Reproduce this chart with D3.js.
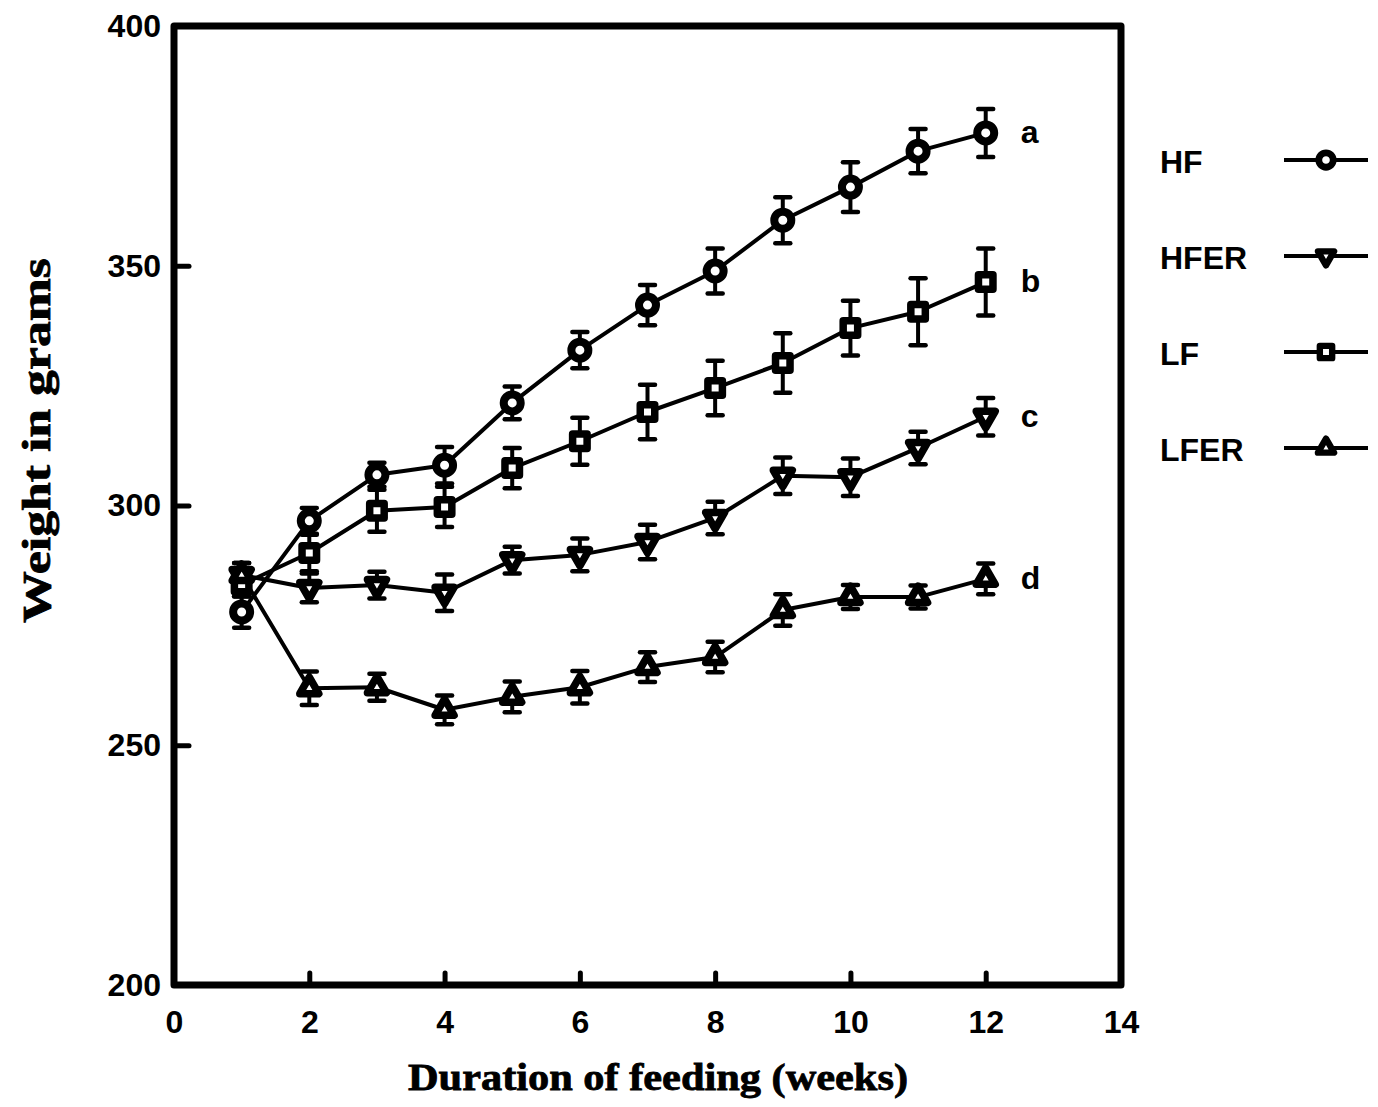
<!DOCTYPE html>
<html>
<head>
<meta charset="utf-8">
<script src="https://cdn.jsdelivr.net/npm/d3@7"></script>
<style>
  html, body { margin: 0; padding: 0; background: #fff; }
  svg { display: block; }
</style>
</head>
<body>
<svg id="chart" width="1378" height="1107"></svg>
<script>
// Body weight over 12 weeks of feeding, four diet groups (mean ± SE)
const weeks = [1, 2, 3, 4, 5, 6, 7, 8, 9, 10, 11, 12];

const hfMean   = [277.8, 296.8, 306.4, 308.4, 321.4, 332.4, 341.8, 348.9, 359.5, 366.4, 373.9, 377.7];
const hfErr    = [3.3, 2.7, 2.5, 3.8, 3.4, 3.8, 4.2, 4.7, 4.8, 5.2, 4.6, 5.0];

const hferMean = [285.5, 282.8, 283.4, 281.8, 288.6, 289.7, 292.4, 297.4, 306.2, 305.9, 312.0, 318.5];
const hferErr  = [2.5, 3.0, 2.8, 3.8, 2.8, 3.4, 3.6, 3.4, 3.8, 3.9, 3.4, 3.9];

const lfMean   = [283.5, 290.1, 298.9, 299.7, 307.8, 313.4, 319.5, 324.5, 329.7, 337.0, 340.4, 346.6];
const lfErr    = [2.5, 3.8, 4.4, 4.2, 4.2, 4.9, 5.7, 5.7, 6.2, 5.7, 7.0, 7.0];

const lferMean = [285.5, 261.9, 262.1, 257.4, 260.1, 262.1, 266.3, 268.4, 278.2, 280.9, 280.9, 284.7];
const lferErr  = [2.5, 3.5, 2.8, 3.0, 3.2, 3.4, 3.1, 3.2, 3.3, 2.5, 2.4, 3.2];

const groupNames   = ["HF", "HFER", "LF", "LFER"];
const groupLetters = ["a", "c", "b", "d"];
const groupShapes  = ["circle", "triangleDown", "square", "triangleUp"];

const xTicks = [0, 2, 4, 6, 8, 10, 12, 14];
const yTicks = [200, 250, 300, 350, 400];

const xTitle = "Duration of feeding (weeks)";
const yTitle = "Weight in grams";

const groups = groupNames.map((name, i) => ({
  name,
  letter: groupLetters[i],
  shape: groupShapes[i],
  mean: [hfMean, hferMean, lfMean, lferMean][i],
  err:  [hfErr, hferErr, lfErr, lferErr][i]
}));

const svg = d3.select("#chart");

const x = d3.scaleLinear().domain([0, 14]).range([174, 1121]);
const y = d3.scaleLinear().domain([200, 400]).range([985, 26]);

const sansBold = "'Liberation Sans', Arial, sans-serif";
const serifBold = "'Liberation Serif', 'Times New Roman', serif";

// marker drawing
function drawMarker(g, shape, scale) {
  const k = scale || 1;
  if (shape === "circle") {
    g.append("circle").attr("r", 8.5 * k)
      .attr("fill", "#fff").attr("stroke", "#000").attr("stroke-width", 8 * k);
  } else if (shape === "square") {
    const s = 14.5 * k;
    g.append("rect").attr("x", -s / 2).attr("y", -s / 2).attr("width", s).attr("height", s)
      .attr("fill", "#fff").attr("stroke", "#000").attr("stroke-width", 7.5 * k)
      .attr("stroke-linejoin", "round");
  } else {
    const s = 19 * k;
    const h = s * Math.sqrt(3) / 2;
    const dir = shape === "triangleUp" ? 1 : -1;
    const pts = [[0, -dir * 2 * h / 3], [s / 2, dir * h / 3], [-s / 2, dir * h / 3]];
    g.append("path").attr("d", d3.line()(pts) + "Z")
      .attr("fill", "#fff").attr("stroke", "#000").attr("stroke-width", 7.5 * k)
      .attr("stroke-linejoin", "round");
  }
}

// axis frame
const frame = svg.append("g");
frame.append("rect")
  .attr("x", x(0)).attr("y", y(400))
  .attr("width", x(14) - x(0)).attr("height", y(200) - y(400))
  .attr("fill", "none").attr("stroke", "#000").attr("stroke-width", 7)
  .attr("stroke-linejoin", "round");

// x axis: inward ticks, labels below
const xAxis = d3.axisBottom(x).tickValues(xTicks).tickSize(-12).tickPadding(42)
  .tickFormat(d3.format("d"));
const gx = svg.append("g").attr("transform", `translate(0,${y(200)})`).call(xAxis);
gx.select(".domain").remove();
gx.selectAll(".tick line").attr("stroke", "#000").attr("stroke-width", 5)
  .attr("stroke-linecap", "round");
gx.selectAll(".tick").filter(d => d === 0 || d === 14).select("line").remove();
gx.selectAll(".tick text").attr("font-family", sansBold).attr("font-weight", "bold")
  .attr("font-size", 32).attr("fill", "#000").attr("dy", "0.2em");

// y axis: inward ticks, labels left
const yAxis = d3.axisLeft(y).tickValues(yTicks).tickSize(-15).tickPadding(13)
  .tickFormat(d3.format("d"));
const gy = svg.append("g").attr("transform", `translate(${x(0)},0)`).call(yAxis);
gy.select(".domain").remove();
gy.selectAll(".tick line").attr("stroke", "#000").attr("stroke-width", 5)
  .attr("stroke-linecap", "round");
gy.selectAll(".tick").filter(d => d === 200 || d === 400).select("line").remove();
gy.selectAll(".tick text").attr("font-family", sansBold).attr("font-weight", "bold")
  .attr("font-size", 32).attr("fill", "#000");

// axis titles
svg.append("text")
  .attr("x", 408).attr("y", 1090)
  .attr("font-family", serifBold).attr("font-weight", "bold").attr("font-size", 38)
  .attr("stroke", "#000").attr("stroke-width", 0.8)
  .attr("textLength", 500).attr("lengthAdjust", "spacingAndGlyphs")
  .text(xTitle);

svg.append("text")
  .attr("transform", "translate(50,623) rotate(-90)")
  .attr("font-family", serifBold).attr("font-weight", "bold").attr("font-size", 41)
  .attr("stroke", "#000").attr("stroke-width", 0.8)
  .attr("textLength", 365).attr("lengthAdjust", "spacingAndGlyphs")
  .text(yTitle);

// error bars
const capHalf = 7.5;
const errLayer = svg.append("g");
groups.forEach(gr => {
  weeks.forEach((w, i) => {
    const cx = x(w), top = y(gr.mean[i] + gr.err[i]), bot = y(gr.mean[i] - gr.err[i]);
    errLayer.append("line").attr("x1", cx).attr("x2", cx).attr("y1", top).attr("y2", bot)
      .attr("stroke", "#000").attr("stroke-width", 4);
    [top, bot].forEach(yy => {
      errLayer.append("line").attr("x1", cx - capHalf).attr("x2", cx + capHalf)
        .attr("y1", yy).attr("y2", yy)
        .attr("stroke", "#000").attr("stroke-width", 4.5).attr("stroke-linecap", "round");
    });
  });
});

// connecting lines
const lineGen = d3.line().x((d, i) => x(weeks[i])).y(d => y(d));
const lineLayer = svg.append("g");
groups.forEach(gr => {
  lineLayer.append("path").attr("d", lineGen(gr.mean))
    .attr("fill", "none").attr("stroke", "#000").attr("stroke-width", 4)
    .attr("stroke-linejoin", "round");
});

// markers
const markerLayer = svg.append("g");
groups.forEach(gr => {
  weeks.forEach((w, i) => {
    const g = markerLayer.append("g").attr("transform", `translate(${x(w)},${y(gr.mean[i])})`);
    drawMarker(g, gr.shape, 1);
  });
});

// significance letters next to week 12
groups.forEach(gr => {
  svg.append("text")
    .attr("x", x(weeks[weeks.length - 1]) + 35)
    .attr("y", y(gr.mean[gr.mean.length - 1]) + 10)
    .attr("font-family", sansBold).attr("font-weight", "bold").attr("font-size", 32)
    .text(gr.letter);
});

// legend
const legend = svg.append("g");
groups.forEach((gr, i) => {
  const ly = 160 + i * 96;
  legend.append("text").attr("x", 1160).attr("y", ly + 13)
    .attr("font-family", sansBold).attr("font-weight", "bold").attr("font-size", 32)
    .text(gr.name);
  legend.append("line").attr("x1", 1284).attr("x2", 1368).attr("y1", ly).attr("y2", ly)
    .attr("stroke", "#000").attr("stroke-width", 4);
  const g = legend.append("g").attr("transform", `translate(1326,${ly})`);
  drawMarker(g, gr.shape, 0.85);
});
</script>
</body>
</html>
